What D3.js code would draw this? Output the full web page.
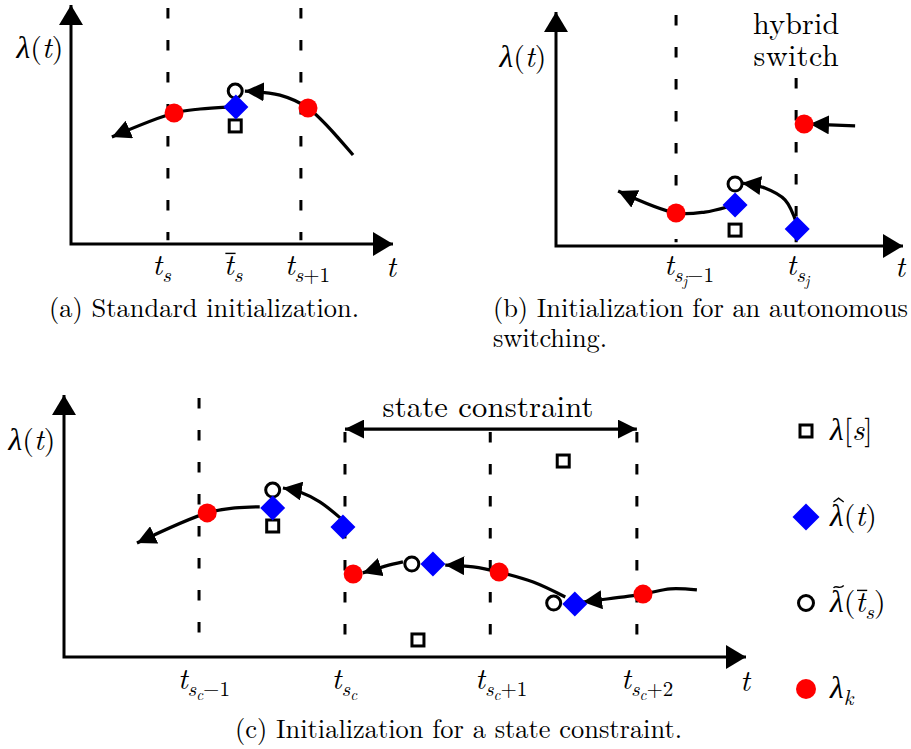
<!DOCTYPE html>
<html>
<head>
<meta charset="utf-8">
<script src="https://cdn.jsdelivr.net/npm/d3@7"></script>
<style>
  body { margin: 0; background: #fff; }
</style>
</head>
<body>
<div id="fig"></div>
<script>
// ---- panel (a): standard initialization ----
const aGuides = [{ x: 30.1, top: 98.7 }, { x: 71.4, top: 98.7 }];
const aRed = [[32.0, 54.8], [73.6, 56.9]];
const aDiamond = [[51.2, 57.3]];
const aCircle = [[51.0, 64.0]];
const aSquare = [[51.0, 49.4]];
const aCurves = [
  [[48.4, 57.3], [40.1, 56.5], [32.0, 54.8], [12.7, 44.8]],
  [[87.6, 37.2], [73.6, 56.9], [64.9, 62.3], [54.0, 64.0]]
];
const aTickLabels = [
  { x: 28.1, parts: [["t", 0, 1], ["s", 1, 1]] },
  { x: 50.3, parts: [["t", 0, 1, "bar"], ["s", 1, 1]] },
  { x: 73.4, parts: [["t", 0, 1], ["s", 1, 1], ["+1", 1, 0]] }
];

// ---- panel (b): autonomous switching ----
const bGuides = [{ x: 34.6, top: 98.7 }, { x: 69.2, top: 71.8 }];
const bRed = [[34.6, 14.1], [71.5, 52.1]];
const bDiamond = [[51.6, 17.5], [69.5, 7.3]];
const bCircle = [[51.6, 26.5]];
const bSquare = [[51.6, 6.8]];
const bCurves = [
  [[49.3, 16.7], [42.9, 14.5], [34.6, 14.1], [17.9, 23.5]],
  [[69.5, 9.0], [66.0, 19.7], [60.2, 24.8], [53.6, 26.9]],
  [[86.2, 51.3], [73.2, 52.1]]
];
const bTickLabels = [
  { x: 38.3, parts: [["t", 0, 1], ["s", 1, 1], ["j", 2, 1], ["\u22121", 1, 0]] },
  { x: 69.7, parts: [["t", 0, 1], ["s", 1, 1], ["j", 2, 1]] }
];

// ---- panel (c): state constraint ----
const cGuides = [{ x: 19.8, top: 98.9 }, { x: 41.2, top: 85.9 }, { x: 62.5, top: 85.9 }, { x: 84.0, top: 85.9 }];
const cRed = [[21.0, 55.0], [42.4, 31.7], [63.8, 32.4], [84.9, 24.0]];
const cDiamond = [[30.6, 56.9], [40.9, 49.6], [54.1, 35.5], [74.9, 20.2]];
const cCircle = [[30.6, 63.7], [51.0, 35.5], [71.8, 20.6]];
const cSquare = [[30.6, 50.0], [51.9, 6.5], [73.2, 74.8]];
const cCurves = [
  [[28.7, 57.3], [25.1, 56.9], [21.0, 55.0], [10.7, 43.5]],
  [[40.5, 53.1], [37.5, 59.2], [34.6, 63.0], [32.1, 64.5]],
  [[49.7, 36.3], [47.1, 34.7], [43.8, 32.1]],
  [[73.5, 22.9], [68.8, 28.6], [63.8, 32.4], [60.0, 34.4], [55.9, 35.1]],
  [[92.8, 25.6], [88.9, 26.0], [84.9, 24.0], [76.1, 21.0]]
];
const cConstraint = [41.2, 84.0, 87.0];
const cTickLabels = [
  { x: 20.5, parts: [["t", 0, 1], ["s", 1, 1], ["c", 2, 1], ["\u22121", 1, 0]] },
  { x: 41.1, parts: [["t", 0, 1], ["s", 1, 1], ["c", 2, 1]] },
  { x: 64.1, parts: [["t", 0, 1], ["s", 1, 1], ["c", 2, 1], ["+1", 1, 0]] },
  { x: 85.5, parts: [["t", 0, 1], ["s", 1, 1], ["c", 2, 1], ["+2", 1, 0]] }
];

const legendLabels = [
  { kind: "square", parts: [["\u03bb", 0, 1], ["[", 0, 0], ["s", 0, 1], ["]", 0, 0]] },
  { kind: "diamond", parts: [["\u03bb", 0, 1, "hat"], ["(", 0, 0], ["t", 0, 1], [")", 0, 0]] },
  { kind: "circle", parts: [["\u03bb", 0, 1, "tilde"], ["(", 0, 0], ["t", 0, 1, "bar"], ["s", 1, 1], [")", 0, 0]] },
  { kind: "red", parts: [["\u03bb", 0, 1], ["k", 1, 1]] }
];

const FONT = "'Latin Modern Roman', 'Liberation Serif', serif";
const GREEK = "'Liberation Serif', serif";
const W = 911, H = 749;
const svg = d3.select("#fig").append("svg").attr("width", W).attr("height", H)
  .attr("font-family", FONT);
svg.append("rect").attr("width", W).attr("height", H).attr("fill", "#fff");

const defs = svg.append("defs");
defs.append("marker").attr("id", "axisHead")
  .attr("viewBox", "0 -12 20 24").attr("refX", 20).attr("refY", 0)
  .attr("markerWidth", 20).attr("markerHeight", 24)
  .attr("markerUnits", "userSpaceOnUse").attr("orient", "auto-start-reverse")
  .append("path").attr("d", "M0,-12L20,0L0,12Z").attr("fill", "#000");
defs.append("marker").attr("id", "head")
  .attr("viewBox", "0 -9.5 19 19").attr("refX", 19).attr("refY", 0)
  .attr("markerWidth", 19).attr("markerHeight", 19)
  .attr("markerUnits", "userSpaceOnUse").attr("orient", "auto-start-reverse")
  .append("path").attr("d", "M0,-9.5L19,0L0,9.5Z").attr("fill", "#000");

const SIZES = [30, 21, 15];
const SHIFT = [0, 7, 11];

// math-ish label: parts = [text, level, italic, accent]
function mathText(g, x, y, parts, anchor) {
  const t = g.append("text").attr("x", x).attr("y", y)
    .attr("font-family", FONT)
    .attr("text-anchor", anchor || "middle");
  let level = 0;
  parts.forEach(([s, lv, it]) => {
    const ts = t.append("tspan")
      .attr("dy", SHIFT[lv] - SHIFT[level])
      .attr("font-size", SIZES[lv])
      .attr("font-style", it ? "italic" : "normal")
      .text(s);
    if (s === "\u03bb") ts.attr("font-family", GREEK).attr("font-size", SIZES[lv] * 1.05);
    level = lv;
  });
  // accents drawn as small strokes over the glyph
  let idx = 0;
  parts.forEach(([s, lv, it, acc]) => {
    if (acc) {
      const r = t.node().getExtentOfChar(idx);
      const size = SIZES[lv];
      const cx = r.x + r.width / 2 + (it ? size * 0.06 : 0);
      const base = y + SHIFT[lv];
      const top = base - size * (s === "t" ? 0.72 : 0.8);
      const hw = size * 0.17;
      let d;
      if (acc === "hat") d = `M${cx - hw},${top}L${cx},${top - hw * 0.75}L${cx + hw},${top}`;
      else if (acc === "tilde") d = `M${cx - hw},${top}C${cx - hw * 0.5},${top - hw * 0.8} ${cx + hw * 0.1},${top + hw * 0.5} ${cx + hw},${top - hw * 0.5}`;
      else d = `M${cx - hw},${top}L${cx + hw},${top}`;
      g.append("path").attr("d", d).attr("fill", "none")
        .attr("stroke", "#000").attr("stroke-width", 1.4);
    }
    idx += s.length;
  });
  return t;
}

function plainText(g, x, y, str, size, len, anchor) {
  return g.append("text").attr("x", x).attr("y", y)
    .attr("font-family", FONT).attr("font-size", size)
    .attr("text-anchor", anchor || "middle")
    .attr("textLength", len).attr("lengthAdjust", "spacing")
    .text(str);
}

const lineGen = d3.line().curve(d3.curveCatmullRom.alpha(0.5));

function drawPanel(cfg) {
  const x = d3.scaleLinear().domain([0, 100]).range(cfg.xRange);
  const y = d3.scaleLinear().domain([0, 100]).range(cfg.yRange);
  const g = svg.append("g");

  // dashed guides
  g.selectAll(".guide").data(cfg.guides).enter().append("line")
    .attr("x1", d => x(d.x)).attr("x2", d => x(d.x))
    .attr("y1", d => y(d.top)).attr("y2", y(1.6))
    .attr("stroke", "#000").attr("stroke-width", 3)
    .attr("stroke-dasharray", "10.5,21.5");

  // axes
  g.append("path")
    .attr("d", `M${x(0)},${y(100)}L${x(0)},${y(0)}L${x(100)},${y(0)}`)
    .attr("fill", "none").attr("stroke", "#000").attr("stroke-width", 3)
    .attr("marker-start", "url(#axisHead)").attr("marker-end", "url(#axisHead)");

  // curves
  g.selectAll(".curve").data(cfg.curves).enter().append("path")
    .attr("d", d => lineGen(d.map(p => [x(p[0]), y(p[1])])))
    .attr("fill", "none").attr("stroke", "#000").attr("stroke-width", 3.2)
    .attr("marker-end", "url(#head)");

  // markers
  g.selectAll(".sq").data(cfg.squares).enter().append("rect")
    .attr("x", d => x(d[0]) - 6).attr("y", d => y(d[1]) - 6)
    .attr("width", 12).attr("height", 12)
    .attr("fill", "#fff").attr("stroke", "#000").attr("stroke-width", 3);
  g.selectAll(".ci").data(cfg.circles).enter().append("circle")
    .attr("cx", d => x(d[0])).attr("cy", d => y(d[1])).attr("r", 7)
    .attr("fill", "#fff").attr("stroke", "#000").attr("stroke-width", 3);
  g.selectAll(".di").data(cfg.diamonds).enter().append("path")
    .attr("d", d => `M${x(d[0])},${y(d[1]) - 12.5}l12.5,12.5l-12.5,12.5l-12.5,-12.5Z`)
    .attr("fill", "#0000ff");
  g.selectAll(".rd").data(cfg.reds).enter().append("circle")
    .attr("cx", d => x(d[0])).attr("cy", d => y(d[1])).attr("r", 9.5)
    .attr("fill", "#ff0000");

  // tick labels
  cfg.ticks.forEach(t => mathText(g, x(t.x), cfg.tickY, t.parts));
  mathText(g, cfg.tLabel[0], cfg.tLabel[1], [["t", 0, 1]]);
  mathText(g, cfg.lamLabel[0], cfg.lamLabel[1],
    [["\u03bb", 0, 1], ["(", 0, 0], ["t", 0, 1], [")", 0, 0]]);
  return { g, x, y };
}

const pa = drawPanel({
  xRange: [71, 393], yRange: [244, 5], guides: aGuides, curves: aCurves,
  reds: aRed, diamonds: aDiamond, circles: aCircle, squares: aSquare,
  ticks: aTickLabels, tickY: 275, tLabel: [391, 277], lamLabel: [40, 58]
});
plainText(pa.g, 204, 317, "(a) Standard initialization.", 26.4, 310);

const pb = drawPanel({
  xRange: [556, 903], yRange: [246, 12], guides: bGuides, curves: bCurves,
  reds: bRed, diamonds: bDiamond, circles: bCircle, squares: bSquare,
  ticks: bTickLabels, tickY: 275, tLabel: [900, 277], lamLabel: [523, 67]
});
plainText(pb.g, pb.x(69.2), 34, "hybrid", 30, 86);
plainText(pb.g, pb.x(69.2), 66, "switch", 30, 85);
plainText(pb.g, 493, 317, "(b) Initialization for an autonomous", 26.4, 415, "start");
plainText(pb.g, 493, 347, "switching.", 26.4, 114, "start");

const pc = drawPanel({
  xRange: [64, 746], yRange: [657, 395], guides: cGuides, curves: cCurves,
  reds: cRed, diamonds: cDiamond, circles: cCircle, squares: cSquare,
  ticks: cTickLabels, tickY: 689, tLabel: [745, 691], lamLabel: [32, 450]
});
// state constraint double arrow
pc.g.append("line")
  .attr("x1", pc.x(cConstraint[0])).attr("x2", pc.x(cConstraint[1]))
  .attr("y1", pc.y(cConstraint[2])).attr("y2", pc.y(cConstraint[2]))
  .attr("stroke", "#000").attr("stroke-width", 3.2)
  .attr("marker-start", "url(#head)").attr("marker-end", "url(#head)");
plainText(pc.g, (pc.x(cConstraint[0]) + pc.x(cConstraint[1])) / 2 - 3, 417,
  "state constraint", 30.5, 211);
plainText(pc.g, 458.5, 738, "(c) Initialization for a state constraint.", 26.4, 447);

// legend
const legend = svg.append("g");
const legY = d3.scalePoint().domain(legendLabels.map(d => d.kind)).range([431, 689]);
legendLabels.forEach(d => {
  const cy = legY(d.kind), cx = 806;
  if (d.kind === "square") {
    legend.append("rect").attr("x", cx - 6).attr("y", cy - 6).attr("width", 12).attr("height", 12)
      .attr("fill", "#fff").attr("stroke", "#000").attr("stroke-width", 3);
  } else if (d.kind === "diamond") {
    legend.append("path").attr("d", `M${cx},${cy - 13.5}l13.5,13.5l-13.5,13.5l-13.5,-13.5Z`)
      .attr("fill", "#0000ff");
  } else if (d.kind === "circle") {
    legend.append("circle").attr("cx", cx).attr("cy", cy).attr("r", 7.5)
      .attr("fill", "#fff").attr("stroke", "#000").attr("stroke-width", 3);
  } else {
    legend.append("circle").attr("cx", cx).attr("cy", cy).attr("r", 10).attr("fill", "#ff0000");
  }
  mathText(legend, 830, cy + 9, d.parts, "start");
});
</script>
</body>
</html>
